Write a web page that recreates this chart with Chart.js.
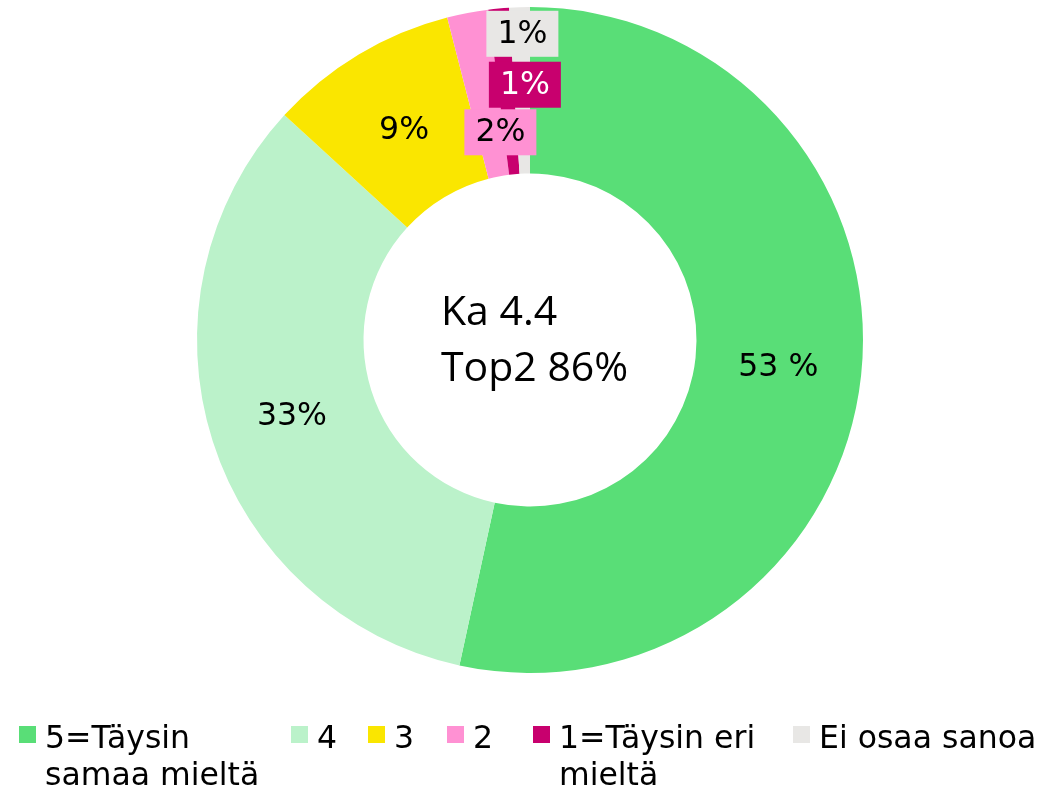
<!DOCTYPE html>
<html>
<head>
<meta charset="utf-8">
<script src="https://cdn.jsdelivr.net/npm/chart.js@4.4.1/dist/chart.umd.min.js"></script>
<style>
  body { margin: 0; background: #fff; }
  #wrap { position: relative; width: 1046px; height: 790px; }
  #donutChart { position: absolute; left: 0; top: 0; }
  .lg-box { position: absolute; top: 726px; width: 17px; height: 17px; }
  .lg-text { position: absolute; top: 719px; font: 31.5px "DejaVu Sans", Verdana, sans-serif; line-height: 37px; color: #000; white-space: normal; }
</style>
</head>
<body>
<div id="wrap">
  <canvas id="donutChart" width="1046" height="790"></canvas>
  <div id="legend"></div>
</div>
<script>
// data
const categories = ['5=Täysin samaa mieltä', '4', '3', '2', '1=Täysin eri mieltä', 'Ei osaa sanoa'];
const shares = [53.4, 33.4, 9.2, 2.0, 1.0, 1.0];
const shareLabels = ['53 %', '33%', '9%', '2%', '1%', '1%'];
const centerLines = ['Ka 4.4', 'Top2 86%'];

// styles
const colors = ['#59DE77', '#BBF2CA', '#FAE600', '#FF91D3', '#C8006E', '#E8E7E5'];
const labelColors = ['#000', '#000', '#000', '#000', '#fff', '#000'];
const labelBoxed = [false, false, false, true, true, true];
const labelRadius = [0.5, 0.5, 0.47, 0.27, 0.54, 0.84]; // fraction of ring thickness
const labelShiftX = [0, 0, 0, 10, 19, 2];
const legendLeft = [19, 291, 368, 447, 533, 793];
const legendWidth = [235, 40, 40, 40, 225, 250];

// slice labels + centre text
const sliceLabels = {
  id: 'sliceLabels',
  afterDatasetsDraw(chart) {
    const ctx = chart.ctx;
    const arcs = chart.getDatasetMeta(0).data;
    ctx.save();
    ctx.font = '31.5px "DejaVu Sans", Verdana, sans-serif';
    ctx.textAlign = 'center';
    ctx.textBaseline = 'middle';
    arcs.forEach((arc, i) => {
      const p = arc.getProps(['x', 'y', 'startAngle', 'endAngle', 'innerRadius', 'outerRadius'], true);
      const mid = (p.startAngle + p.endAngle) / 2;
      const r = p.innerRadius + (p.outerRadius - p.innerRadius) * labelRadius[i];
      const x = p.x + Math.cos(mid) * r + labelShiftX[i];
      const y = p.y + Math.sin(mid) * r;
      if (labelBoxed[i]) {
        ctx.fillStyle = colors[i];
        ctx.fillRect(x - 36, y - 23, 72, 46);
      }
      ctx.fillStyle = labelColors[i];
      ctx.fillText(shareLabels[i], x, y + 1);
    });
    const c = arcs[0];
    ctx.font = '41px "Open Sans", "Liberation Sans", sans-serif';
    ctx.textAlign = 'left';
    ctx.textBaseline = 'alphabetic';
    ctx.fillStyle = '#000';
    ctx.fillText(centerLines[0], c.x - 89, c.y - 15);
    ctx.fillText(centerLines[1], c.x - 89, c.y + 41);
    ctx.restore();
  }
};

new Chart(document.getElementById('donutChart'), {
  type: 'doughnut',
  data: {
    labels: categories,
    datasets: [{
      data: shares,
      backgroundColor: colors,
      borderWidth: 0
    }]
  },
  options: {
    responsive: false,
    animation: false,
    cutout: '50%',
    layout: { padding: { left: 14, top: 7, bottom: 117, right: 0 } },
    plugins: {
      legend: { display: false },
      tooltip: { enabled: false }
    }
  },
  plugins: [sliceLabels]
});

// legend
const legend = document.getElementById('legend');
categories.forEach((name, i) => {
  const box = document.createElement('div');
  box.className = 'lg-box';
  box.style.left = legendLeft[i] + 'px';
  box.style.background = colors[i];
  legend.appendChild(box);
  const txt = document.createElement('div');
  txt.className = 'lg-text';
  txt.style.left = (legendLeft[i] + 26) + 'px';
  txt.style.width = legendWidth[i] + 'px';
  txt.textContent = name;
  legend.appendChild(txt);
});
</script>
</body>
</html>
